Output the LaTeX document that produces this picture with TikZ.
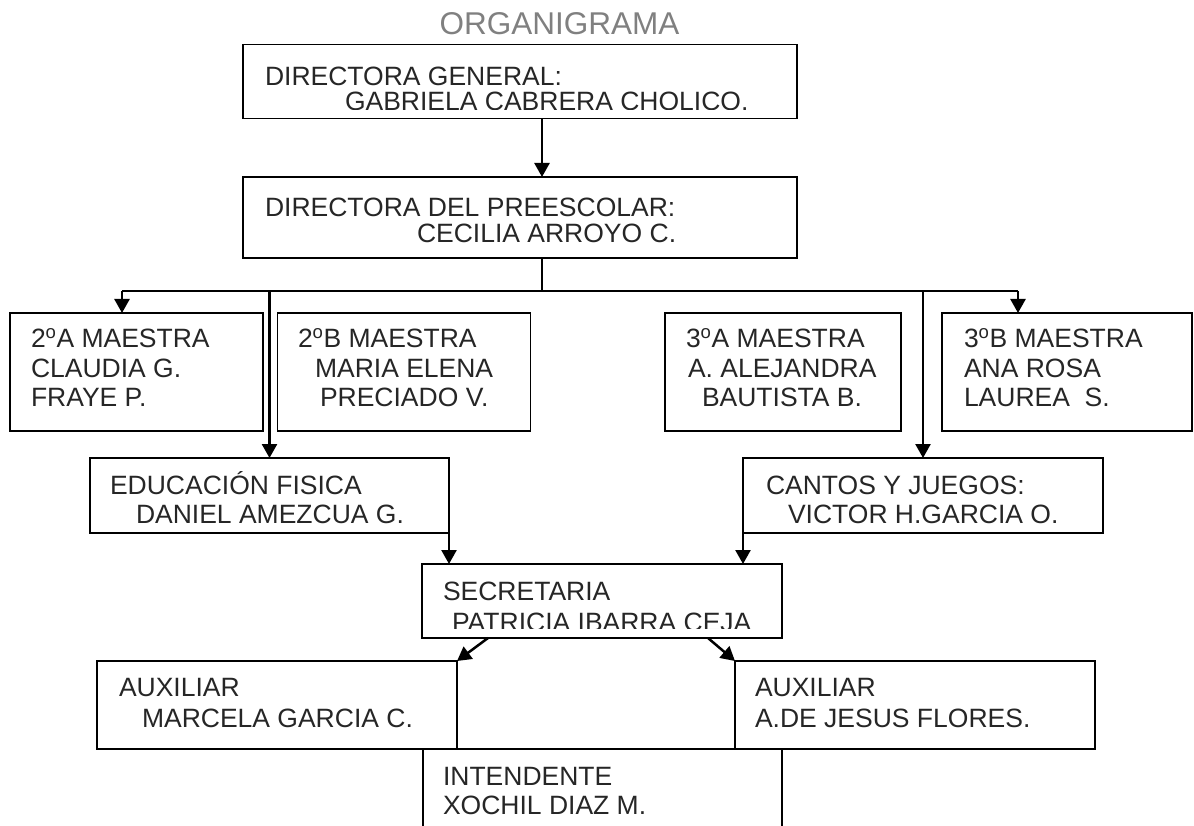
\documentclass[tikz,border=0pt]{standalone}
\usepackage{fontspec}
\setmainfont{Liberation Sans}
\usetikzlibrary{arrows.meta,calc}
\definecolor{txtc}{HTML}{262626}
\definecolor{titc}{HTML}{808080}
\newcommand{\ordo}{\textsuperscript{o}}
\begin{document}
\begin{tikzpicture}[x=1pt,y=-1pt,
  box/.style={draw=black,line width=1.8pt,inner sep=0pt,outer sep=0pt,fill=none},
  arr/.style={line width=2.5pt,-{Triangle[width=15pt,length=14pt]}},
  ln/.style={line width=2.5pt},
  lbl/.style={anchor=base west,inner sep=0pt,outer sep=0pt,text=txtc,font=\fontsize{26.5}{29}\selectfont},
  ttl/.style={anchor=base,inner sep=0pt,text=titc,font=\fontsize{31.5}{33}\selectfont}]
\clip (0,0) rectangle (1194,826);
\useasboundingbox (0,0) rectangle (1194,826);
% title
\node[ttl] (title) at (559.5,35) {ORGANIGRAMA};
% boxes
\node[box,minimum width=554pt,minimum height=74pt] (dg) at (520,81.5) {};
\node[box,minimum width=554pt,minimum height=81pt] (dp) at (520,217.5) {};
\node[box,minimum width=253pt,minimum height=118pt] (a2) at (136.5,372) {};
\node[box,minimum width=253pt,minimum height=118pt] (b2) at (404,372) {};
\node[box,minimum width=236pt,minimum height=118pt] (a3) at (783,372) {};
\node[box,minimum width=250pt,minimum height=118pt] (b3) at (1067,372) {};
\node[box,minimum width=359pt,minimum height=75pt] (edu) at (269.5,495.5) {};
\node[box,minimum width=360pt,minimum height=75pt] (can) at (923,495.5) {};
\node[box,minimum width=360pt,minimum height=74pt] (sec) at (602,601) {};
\node[box,minimum width=360pt,minimum height=88pt] (ax1) at (277,705) {};
\node[box,minimum width=360pt,minimum height=88pt] (ax2) at (915,705) {};
\node[box,minimum width=359pt,minimum height=102pt] (int) at (602.5,800) {};
% texts
\node[lbl] (t1a) at (265,86) {DIRECTORA GENERAL:};
\begin{scope}
\clip (250,88) rectangle (790,109.5);
\node[lbl] (t1b) at (345,111) {GABRIELA CABRERA CHOLICO.};
\end{scope}
\node[lbl] (t2a) at (265,217) {DIRECTORA DEL PREESCOLAR:};
\node[lbl] (t2b) at (417,243) {CECILIA ARROYO C.};
\node[lbl] (ta1) at (31,348) {2\ordo A MAESTRA};
\node[lbl] (ta2) at (31,377) {CLAUDIA G.};
\node[lbl] (ta3) at (31,406) {FRAYE P.};
\node[lbl] (tb1) at (298,348) {2\ordo B MAESTRA};
\node[lbl] (tb2) at (315,377) {MARIA ELENA};
\node[lbl] (tb3) at (320,406) {PRECIADO V.};
\node[lbl] (tc1) at (686,348) {3\ordo A MAESTRA};
\node[lbl] (tc2) at (688,377) {A. ALEJANDRA};
\node[lbl] (tc3) at (702,406) {BAUTISTA B.};
\node[lbl] (td1) at (964,348) {3\ordo B MAESTRA};
\node[lbl] (td2) at (964,377) {ANA ROSA};
\node[lbl] (td3) at (964,406) {LAUREA\ \ S.};
\node[lbl] (te1) at (110,494) {EDUCACIÓN FISICA};
\node[lbl] (te2) at (136,523) {DANIEL AMEZCUA G.};
\node[lbl] (tf1) at (766,494) {CANTOS Y JUEGOS:};
\node[lbl] (tf2) at (788,523) {VICTOR H.GARCIA O.};
\node[lbl] (ts1) at (443,600) {SECRETARIA};
\begin{scope}
\clip (430,605) rectangle (775,628.5);
\node[lbl] (ts2) at (452,631) {PATRICIA IBARRA CEJA};
\end{scope}
\node[lbl] (tx1) at (119,696) {AUXILIAR};
\node[lbl] (tx2) at (142,727) {MARCELA GARCIA C.};
\node[lbl] (ty1) at (755,696) {AUXILIAR};
\node[lbl] (ty2) at (755,727) {A.DE JESUS FLORES.};
\node[lbl] (ti1) at (443,785) {INTENDENTE};
\node[lbl] (ti2) at (443,814) {XOCHIL DIAZ M.};
% connectors
\coordinate (j) at (542,291);
\coordinate (ba) at (122,291);
\coordinate (bb) at (1018,291);
\draw[arr] (dg.south -| j) -- (dp.north -| j);
\draw[ln] (dp.south -| j) -- (j);
\draw[ln] (ba) -- (bb);
\draw[arr] (ba) -- (ba |- a2.north);
\draw[arr] (bb) -- (bb |- b3.north);
\draw[arr] (edu.north |- j) -- (edu.north);
\draw[arr] (can.north |- j) -- (can.north);
\draw[arr] (edu.south east) -- (edu.south east |- sec.north);
\draw[arr] (can.south west) -- (can.south west |- sec.north);
\draw[arr] ($(sec.south west)+(66,0)$) -- (ax1.north east);
\draw[arr] ($(sec.south east)+(-74,0)$) -- (ax2.north west);
\end{tikzpicture}
\end{document}
